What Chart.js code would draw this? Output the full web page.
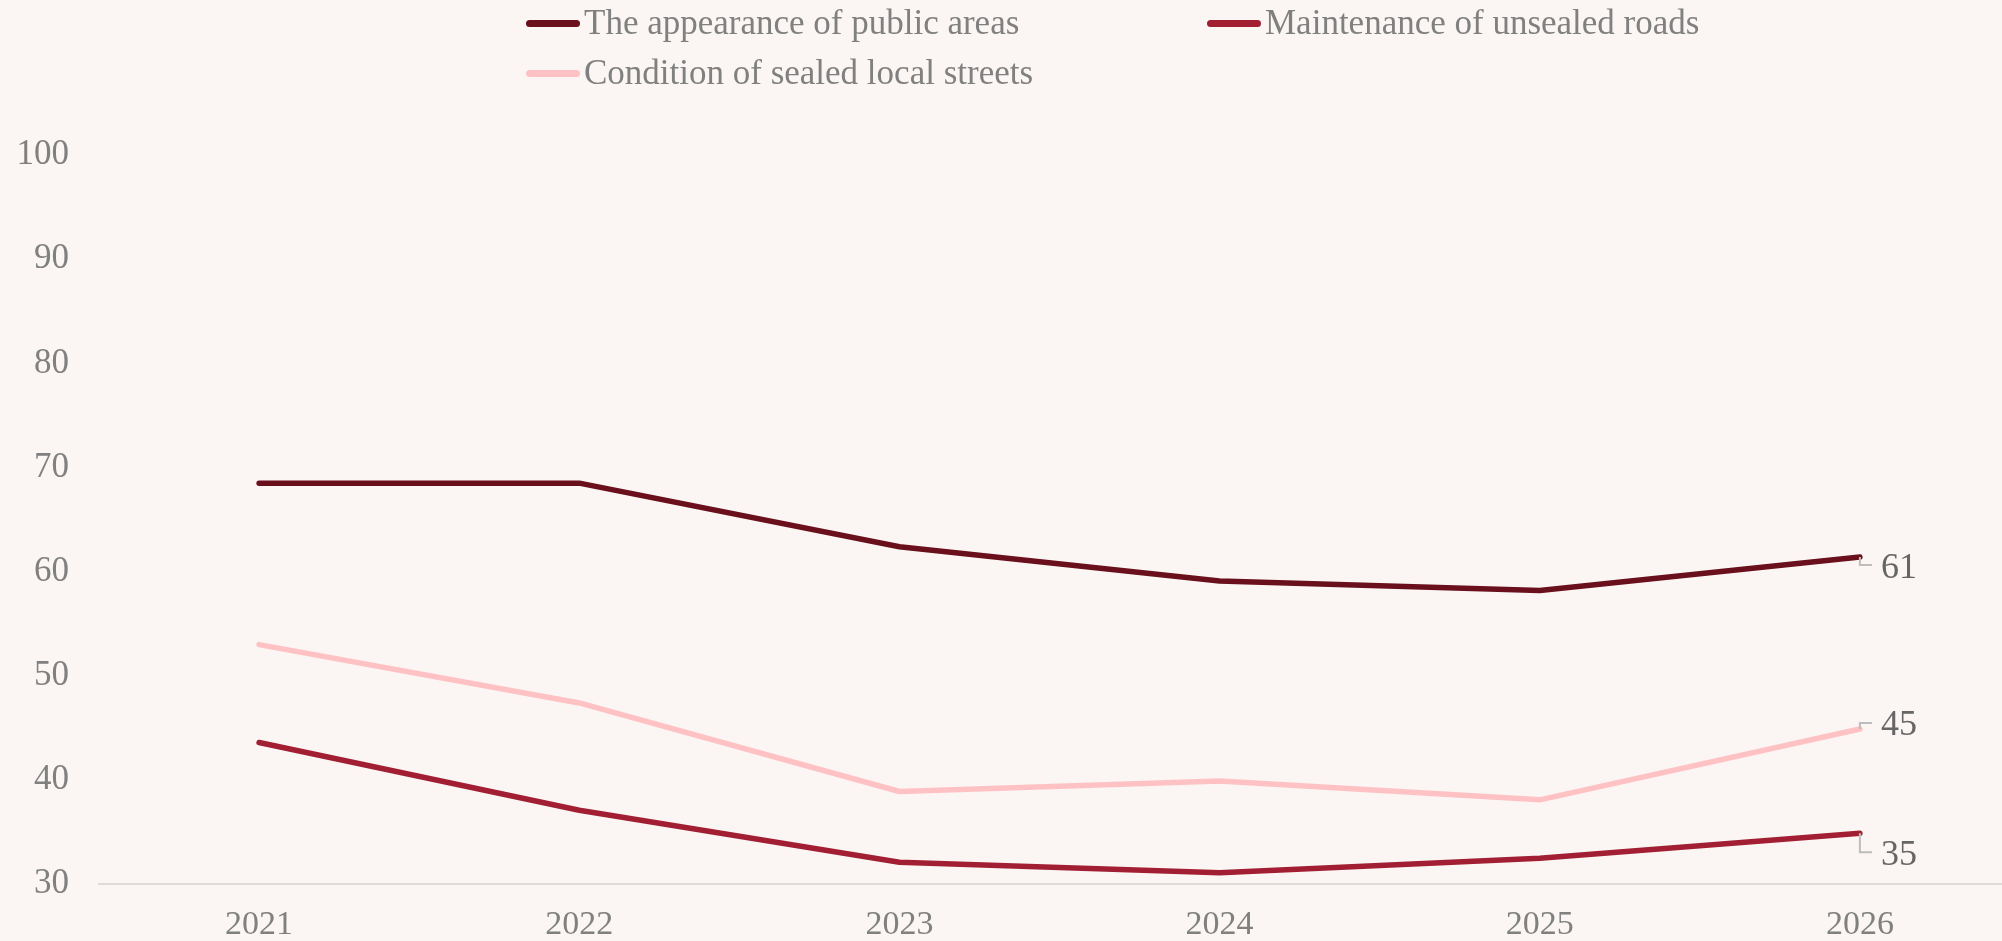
<!DOCTYPE html>
<html>
<head>
<meta charset="utf-8">
<script src="https://cdn.jsdelivr.net/npm/chart.js@4"></script>
<style>
  html, body { margin: 0; padding: 0; background: #fbf6f4; overflow: hidden; }
  #wrap { position: relative; width: 2020px; height: 966px; }
  #legend { position: absolute; left: 0; top: 0; width: 2002px; height: 100px; font-family: "Liberation Serif", serif; font-size: 35px; color: #808080; }
  .item { position: absolute; display: flex; align-items: center; height: 40px; white-space: nowrap; }
  .swatch { width: 54px; height: 7px; border-radius: 4px; margin-right: 4px; }
  canvas { position: absolute; left: 0; top: 0; }
</style>
</head>
<body>
<div id="wrap">
  <canvas id="c" width="2020" height="966"></canvas>
  <div id="legend"></div>
</div>
<script>
const years = ['2021', '2022', '2023', '2024', '2025', '2026'];
const seriesNames = ['The appearance of public areas', 'Maintenance of unsealed roads', 'Condition of sealed local streets'];
const appearanceValues = [68.5, 68.5, 62.4, 59.1, 58.2, 61.4];
const unsealedValues = [43.6, 37.1, 32.1, 31.1, 32.5, 34.9];
const sealedValues = [53.0, 47.4, 38.9, 39.9, 38.1, 44.9];
const yTicks = [30, 40, 50, 60, 70, 80, 90, 100];

const colors = ['#6a0f1c', '#a21f33', '#ffc2c4'];
const FONT = '"Liberation Serif", serif';

// Legend (HTML, grid arranged)
const legendPos = [[526, 3], [1207, 3], [526, 53]];
const legendEl = document.getElementById('legend');
seriesNames.forEach((name, i) => {
  const it = document.createElement('div');
  it.className = 'item';
  it.style.left = legendPos[i][0] + 'px';
  it.style.top = legendPos[i][1] + 'px';
  const sw = document.createElement('span');
  sw.className = 'swatch';
  sw.style.background = colors[i];
  const tx = document.createElement('span');
  tx.textContent = name;
  it.appendChild(sw); it.appendChild(tx);
  legendEl.appendChild(it);
});

// End labels with connectors
const labelShift = [8, 19, -6];
const endLabels = {
  id: 'endLabels',
  afterDatasetsDraw(chart) {
    const ctx = chart.ctx;
    ctx.save();
    chart.data.datasets.forEach((ds, i) => {
      const meta = chart.getDatasetMeta(i);
      const pt = meta.data[meta.data.length - 1];
      const v = ds.data[ds.data.length - 1];
      const x = pt.x, y = pt.y, yy = y + labelShift[i];
      ctx.strokeStyle = '#bdbdbd';
      ctx.lineWidth = 2;
      ctx.beginPath();
      ctx.moveTo(x, y);
      ctx.lineTo(x, yy);
      ctx.lineTo(x + 12, yy);
      ctx.stroke();
      ctx.fillStyle = '#666666';
      ctx.font = '36px ' + FONT;
      ctx.textAlign = 'left';
      ctx.textBaseline = 'middle';
      ctx.fillText(String(Math.round(v)), x + 21, yy + 3);
    });
    ctx.restore();
  }
};

new Chart(document.getElementById('c'), {
  type: 'line',
  data: {
    labels: years,
    datasets: [
      { label: seriesNames[0], data: appearanceValues, borderColor: colors[0] },
      { label: seriesNames[1], data: unsealedValues, borderColor: colors[1] },
      { label: seriesNames[2], data: sealedValues, borderColor: colors[2] }
    ].map(d => Object.assign(d, { borderWidth: 5.5, pointRadius: 0, tension: 0, borderCapStyle: 'round', borderJoinStyle: 'round', fill: false }))
  },
  options: {
    responsive: false,
    animation: false,
    layout: { padding: { top: 155, left: 0, right: 0, bottom: 1 } },
    plugins: { legend: { display: false }, tooltip: { enabled: false } },
    scales: {
      x: {
        offset: true,
        grid: { display: false, drawTicks: false },
        border: { display: true, color: '#dedad9', width: 2 },
        ticks: { color: '#808080', font: { family: FONT, size: 34 }, padding: 20, maxRotation: 0 }
      },
      y: {
        min: 30, max: 100,
        afterBuildTicks(scale) { scale.ticks = yTicks.map(v => ({ value: v })); },
        afterFit(scale) { scale.width = 99; },
        grid: { display: false, drawTicks: false },
        border: { display: false },
        ticks: { color: '#808080', font: { family: FONT, size: 35 }, padding: 30 }
      }
    }
  },
  plugins: [endLabels]
});
</script>
</body>
</html>
